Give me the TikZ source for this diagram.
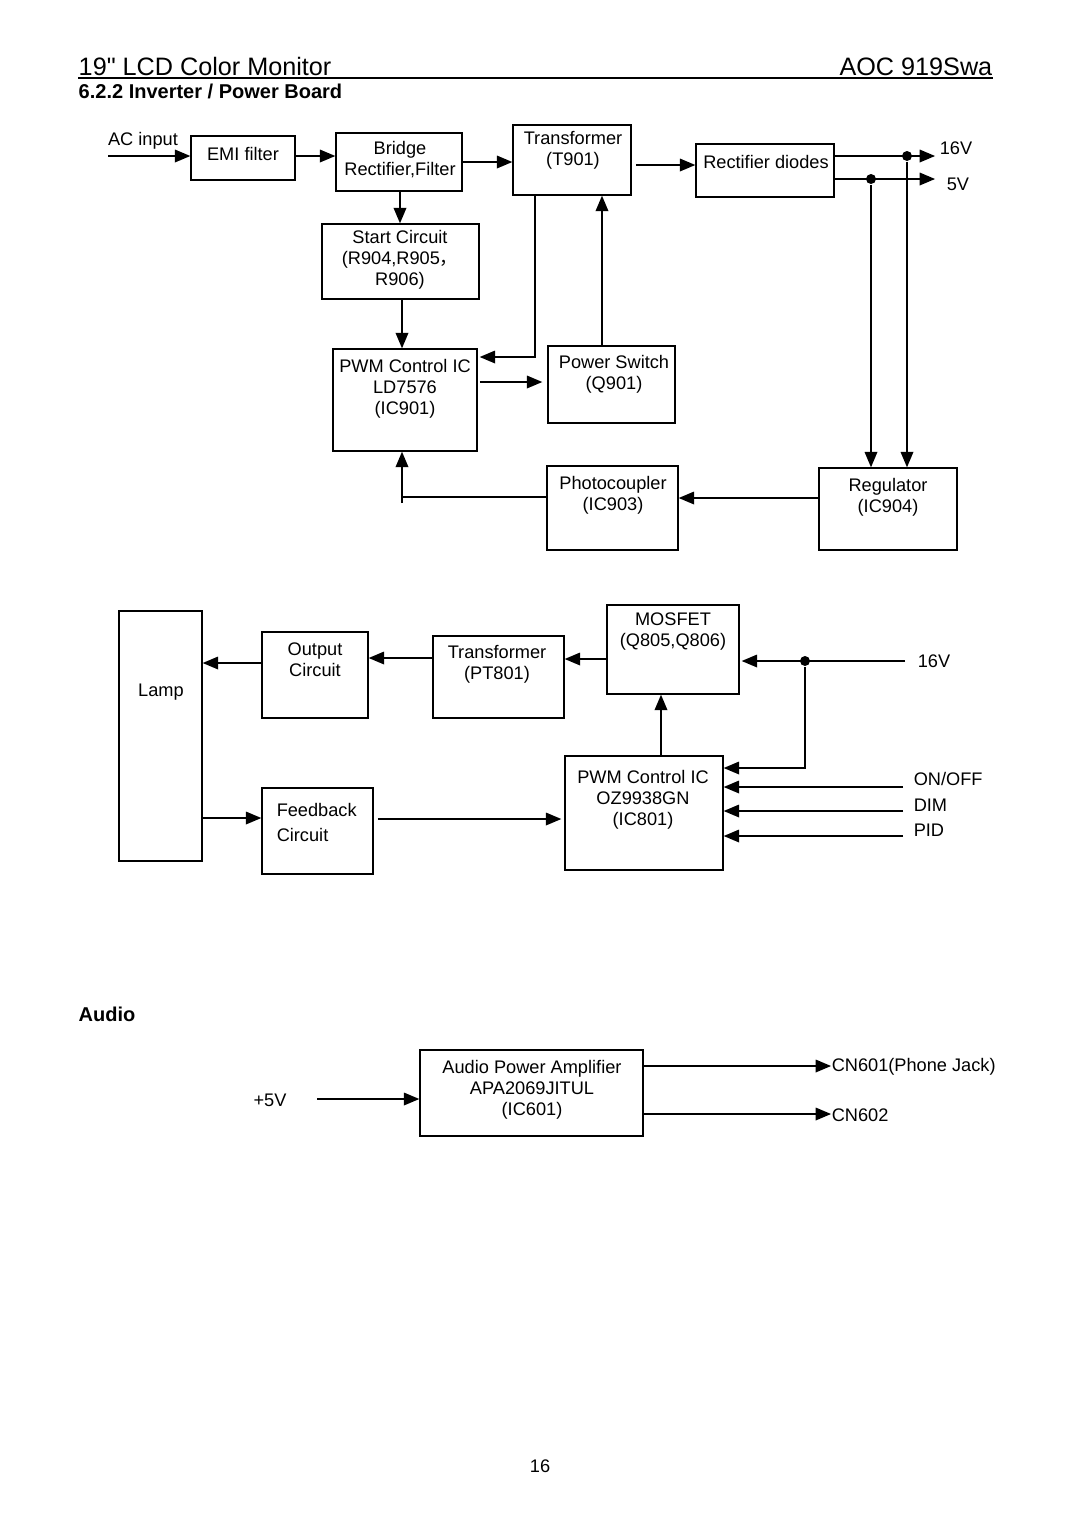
\documentclass[tikz,border=0pt]{standalone}
\usepackage{fontspec}
\setmainfont{Liberation Sans}
\newfontfamily\cjk{Noto Sans CJK SC}
\usetikzlibrary{arrows}

\begin{document}
\begin{tikzpicture}[x=0.5pt,y=-0.5pt,>=triangle 45,line width=0.75pt]
  \tikzstyle{box}=[draw,inner sep=0pt]
  \tikzstyle{txt}=[align=center,inner sep=0pt,font=\fontsize{9.1}{10.5}\selectfont]
  \tikzstyle{dot}=[circle,fill,inner sep=0pt,minimum size=5pt]
  \tikzstyle{head}=[inner sep=0pt,font=\fontsize{12.6}{14}\selectfont]
  \tikzstyle{sect}=[inner sep=0pt,anchor=base west,font=\fontsize{10}{12}\selectfont\bfseries]

  \useasboundingbox (0,0) rectangle (1080,1528);
  \fill[white] (0,0) rectangle (1080,1528);

  \node[head,anchor=base west] (title) at (78,75) {19\textquotedbl{} LCD Color Monitor};
  \node[head,anchor=base east] (model) at (993,75) {AOC 919Swa};
  \draw (78,78) -- (993,78);
  \node[sect] (sec) at (78,98) {6.2.2 Inverter / Power Board};

  % power board
  \node[box,minimum width=52pt,minimum height=22pt]     (emi)     at (243,158)   {};
  \node[box,minimum width=63pt,minimum height=29pt]     (bridge)  at (399,162)   {};
  \node[box,minimum width=59pt,minimum height=35pt]     (t901)    at (572,160)   {};
  \node[box,minimum width=69pt,minimum height=26.5pt]   (rect)    at (765,170.5) {};
  \node[box,minimum width=78.5pt,minimum height=37.5pt] (start)   at (400.5,261.5) {};
  \node[box,minimum width=72pt,minimum height=51pt]     (pwmA)    at (405,400)   {};
  \node[box,minimum width=63.5pt,minimum height=38.5pt] (pswitch) at (611.5,384.5) {};
  \node[box,minimum width=65.5pt,minimum height=42pt]   (photo)   at (612.5,508) {};
  \node[box,minimum width=69pt,minimum height=41pt]     (regul)   at (888,509)   {};

  \node[txt] (emiT)     at (243,154)   {EMI filter};
  \node[txt] (bridgeT)  at (400,160)   {Bridge\\Rectifier,Filter};
  \node[txt] (t901T)    at (573,150)   {Transformer\\(T901)};
  \node[txt] (rectT)    at (766,162)   {Rectifier diodes};
  \node[txt] (startT)   at (400,260)   {Start Circuit\\(R904,R905{\cjk ，}\\R906)};
  \node[txt] (pwmAT)    at (405,389)   {PWM Control IC\\LD7576\\(IC901)};
  \node[txt] (pswitchT) at (614,374)   {Power Switch\\(Q901)};
  \node[txt] (photoT)   at (613,495)   {Photocoupler\\(IC903)};
  \node[txt] (regulT)   at (888,497)   {Regulator\\(IC904)};

  \node[txt] (acin)  at (143,141) {AC input};
  \coordinate (acsrc) at (108,156);
  \node[txt] (v16)   at (956,148) {16V};
  \node[txt] (v5)    at (958,184) {5V};
  \coordinate (o16) at (935,156);
  \coordinate (o5)  at (935,179);
  \node[dot] (d16) at (907,156) {};
  \node[dot] (d5)  at (871,179) {};
  \coordinate (fbk) at (402,503);

  \draw[->] (acsrc) -- (emi.west |- acsrc);
  \draw[->] (emi.east |- 0,156) -- (bridge.west |- 0,156);
  \draw[->] (bridge.east |- 0,162) -- (t901.west |- 0,162);
  \draw[->,shorten <=2pt] (t901.east |- 0,165) -- (rect.west |- 0,165);
  \draw[->] (rect.east |- o16) -- (o16);
  \draw[->] (rect.east |- o5) -- (o5);
  \draw[->] (d16) -- (d16 |- regul.north);
  \draw[->] (d5) -- (d5 |- regul.north);
  \draw[->] (regul.west |- 0,498) -- (photo.east |- 0,498);
  \draw (photo.west |- 0,497) -- (fbk |- 0,497);
  \draw[->] (fbk) -- (fbk |- pwmA.south);
  \draw[->] (bridge.south -| 400,0) -- (start.north -| 400,0);
  \draw[->] (start.south -| 402,0) -- (pwmA.north -| 402,0);
  \draw[->,shorten <=1pt,shorten >=2.5pt] (pwmA.east |- 0,382) -- (pswitch.west |- 0,382);
  \draw[->] (pswitch.north -| 602,0) -- (t901.south -| 602,0);
  \draw[->,shorten >=1pt] (t901.south -| 535,0) |- (pwmA.east |- 0,357);

  % inverter
  \node[box,minimum width=41.5pt,minimum height=125pt] (lamp)     at (160.5,736) {};
  \node[box,minimum width=53pt,minimum height=43pt]    (output)   at (315,675)   {};
  \node[box,minimum width=65.5pt,minimum height=41pt]  (pt801)    at (498.5,677) {};
  \node[box,minimum width=66pt,minimum height=44.5pt]  (mosfet)   at (673,649.5) {};
  \node[box,minimum width=79pt,minimum height=57pt]    (pwmB)     at (644,813)   {};
  \node[box,minimum width=55.5pt,minimum height=43pt]  (feedback) at (317.5,831) {};

  \node[txt] (lampT)     at (161,692)   {Lamp};
  \node[txt] (outputT)   at (315,660)   {Output\\Circuit};
  \node[txt] (pt801T)    at (497,664)   {Transformer\\(PT801)};
  \node[txt] (mosfetT)   at (673,632)   {MOSFET\\(Q805,Q806)};
  \node[txt] (pwmBT)     at (643,800)   {PWM Control IC\\OZ9938GN\\(IC801)};
  \node[txt,align=left,anchor=west] (feedbackT) at (276,822) {Feedback\\[2pt]Circuit};

  \node[txt] (vin16) at (934,661) {16V};
  \node[txt,anchor=west] (onoff) at (913,779) {ON/OFF};
  \node[txt,anchor=west] (dim)   at (913,805) {DIM};
  \node[txt,anchor=west] (pid)   at (913,830) {PID};
  \coordinate (i16)  at (905,661);
  \coordinate (ionf) at (903,787);
  \coordinate (idim) at (903,811);
  \coordinate (ipid) at (903,836);
  \node[dot] (d16b) at (805,661) {};

  \draw[->] (output.west |- 0,663) -- (lamp.east |- 0,663);
  \draw[->] (pt801.west |- 0,658) -- (output.east |- 0,658);
  \draw[->] (mosfet.west |- 0,659) -- (pt801.east |- 0,659);
  \draw[->,shorten >=1pt] (i16) -- (mosfet.east |- i16);
  \draw[->] (d16b) |- (pwmB.east |- 0,768);
  \draw[->] (pwmB.north -| 661,0) -- (mosfet.south -| 661,0);
  \draw[->] (ionf) -- (pwmB.east |- ionf);
  \draw[->] (idim) -- (pwmB.east |- idim);
  \draw[->] (ipid) -- (pwmB.east |- ipid);
  \draw[->] (lamp.east |- 0,818) -- (feedback.west |- 0,818);
  \draw[->,shorten <=2pt,shorten >=1.5pt] (feedback.east |- 0,819) -- (pwmB.west |- 0,819);

  % audio
  \node[sect] (audio) at (78,1021) {Audio};
  \node[box,minimum width=111.5pt,minimum height=43pt] (amp) at (531.5,1093) {};
  \node[txt] (ampT) at (532,1090) {Audio Power Amplifier\\APA2069JITUL\\(IC601)};
  \node[txt] (p5) at (270,1100) {+5V};
  \coordinate (p5src) at (317,1099);
  \node[txt,anchor=west] (cn601) at (831,1067) {CN601(Phone Jack)};
  \node[txt,anchor=west] (cn602) at (831,1115) {CN602};

  \draw[->] (p5src) -- (amp.west |- p5src);
  \draw[->] (amp.east |- 0,1066) -- (cn601.west |- 0,1066);
  \draw[->] (amp.east |- 0,1114) -- (cn602.west |- 0,1114);

  \node[txt] (page) at (540,1466) {16};
\end{tikzpicture}
\end{document}
